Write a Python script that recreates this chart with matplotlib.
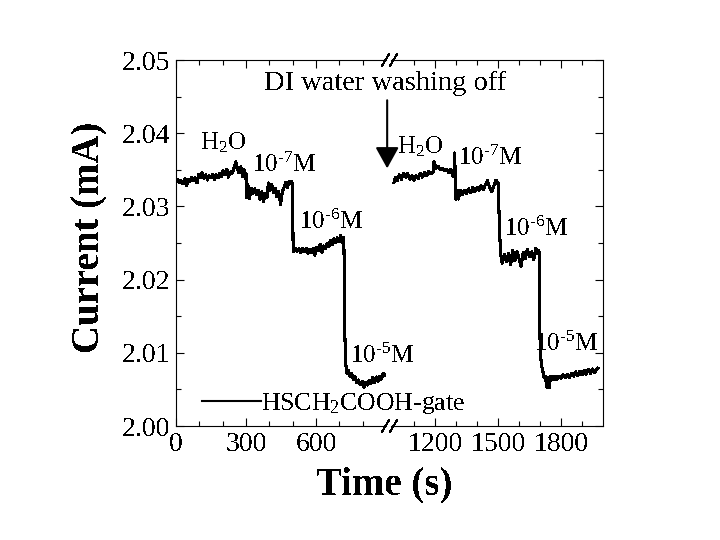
import matplotlib
matplotlib.use('Agg')
import matplotlib.pyplot as plt
from matplotlib.lines import Line2D

plt.rcParams['font.family'] = ['Liberation Serif', 'DejaVu Serif']
plt.rcParams['mathtext.fontset'] = 'custom'
plt.rcParams['mathtext.rm'] = 'Liberation Serif'
plt.rcParams['mathtext.default'] = 'rm'
plt.rcParams['text.antialiased'] = False

# first run, before the break
time_a = [0, 8, 15, 22, 30, 38, 45, 52, 60, 68, 75, 82, 90, 98, 105, 112, 120, 128, 135, 142,
          150, 158, 165, 172, 180, 188, 195, 202, 210, 218, 225, 232, 240, 248, 256, 263, 270,
          278, 285, 292, 298, 300, 303, 308, 315, 322, 330, 338, 345, 352, 360, 368, 375, 382,
          390, 396, 402, 410, 418, 425, 432, 440, 448, 455, 462, 470, 478, 484, 490, 496, 499,
          500, 501, 502, 504, 512, 520, 528, 535, 542, 550, 558, 565, 572, 580, 588, 595, 602,
          610, 618, 625, 632, 640, 648, 655, 662, 670, 678, 685, 692, 700, 706, 712, 716, 718,
          720, 722, 724, 726, 728, 730, 733, 738, 745, 752, 760, 768, 775, 782, 790, 798, 805,
          812, 820, 828, 835, 842, 850, 858, 865, 872, 880, 888, 895]
current_a = [2.0333, 2.0337, 2.0332, 2.0335, 2.0331, 2.0338, 2.0328, 2.0337, 2.0334, 2.0340,
             2.0335, 2.0339, 2.0332, 2.0344, 2.0340, 2.0346, 2.0338, 2.0343, 2.0336, 2.0342,
             2.0339, 2.0344, 2.0337, 2.0343, 2.0339, 2.0345, 2.0341, 2.0349, 2.0343, 2.0351,
             2.0340, 2.0347, 2.0345, 2.0352, 2.0361, 2.0352, 2.0346, 2.0354, 2.0341, 2.0350,
             2.0338, 2.0345, 2.0312, 2.0330, 2.0311, 2.0325, 2.0318, 2.0324, 2.0316, 2.0322,
             2.0310, 2.0320, 2.0307, 2.0318, 2.0312, 2.0332, 2.0322, 2.0330, 2.0319, 2.0325,
             2.0313, 2.0321, 2.0303, 2.0319, 2.0325, 2.0333, 2.0326, 2.0334, 2.0332, 2.0334,
             2.0331, 2.0300, 2.0260, 2.0242, 2.0238, 2.0243, 2.0239, 2.0242, 2.0237, 2.0243,
             2.0238, 2.0243, 2.0236, 2.0241, 2.0237, 2.0243, 2.0233, 2.0244, 2.0240, 2.0248,
             2.0237, 2.0246, 2.0242, 2.0250, 2.0245, 2.0254, 2.0248, 2.0256, 2.0250, 2.0257,
             2.0252, 2.0261, 2.0251, 2.0258, 2.0255, 2.0240, 2.0180, 2.0120, 2.0100, 2.0085,
             2.0075, 2.0072, 2.0076, 2.0068, 2.0072, 2.0064, 2.0067, 2.0059, 2.0063, 2.0056,
             2.0061, 2.0053, 2.0059, 2.0056, 2.0062, 2.0058, 2.0066, 2.0059, 2.0067, 2.0061,
             2.0068, 2.0064, 2.0072, 2.0070]

# second run, after the break
time_b = [1005, 1012, 1020, 1030, 1040, 1050, 1060, 1070, 1080, 1090, 1100, 1110, 1120, 1130,
          1140, 1150, 1160, 1170, 1180, 1190, 1195, 1205, 1215, 1225, 1235, 1245, 1255, 1265,
          1275, 1285, 1292, 1294, 1296, 1298, 1300, 1302, 1306, 1312, 1320, 1330, 1340, 1350,
          1360, 1370, 1380, 1390, 1400, 1410, 1420, 1430, 1440, 1450, 1460, 1470, 1480, 1490,
          1495, 1500, 1503, 1506, 1510, 1514, 1520, 1530, 1540, 1550, 1560, 1570, 1580, 1590,
          1600, 1610, 1620, 1630, 1640, 1650, 1660, 1670, 1680, 1688, 1692, 1696, 1698, 1700,
          1703, 1708, 1714, 1720, 1726, 1732, 1738, 1744, 1750, 1756, 1762, 1768, 1774, 1780,
          1790, 1800, 1810, 1820, 1830, 1840, 1850, 1860, 1870, 1880, 1890, 1900, 1910, 1920,
          1930, 1940, 1950, 1960, 1975]
current_b = [2.0333, 2.0340, 2.0335, 2.0343, 2.0337, 2.0345, 2.0340, 2.0345, 2.0337, 2.0342,
             2.0336, 2.0342, 2.0338, 2.0345, 2.0340, 2.0346, 2.0342, 2.0348, 2.0345, 2.0346,
             2.0361, 2.0352, 2.0355, 2.0350, 2.0352, 2.0349, 2.0351, 2.0346, 2.0351, 2.0341,
             2.0352, 2.0373, 2.0340, 2.0320, 2.0310, 2.0316, 2.0322, 2.0310, 2.0322, 2.0316,
             2.0322, 2.0318, 2.0324, 2.0319, 2.0326, 2.0320, 2.0326, 2.0322, 2.0328, 2.0323,
             2.0330, 2.0335, 2.0326, 2.0320, 2.0328, 2.0336, 2.0334, 2.0332, 2.0310, 2.0280,
             2.0250, 2.0232, 2.0222, 2.0235, 2.0224, 2.0236, 2.0220, 2.0240, 2.0226, 2.0238,
             2.0229, 2.0218, 2.0237, 2.0229, 2.0241, 2.0232, 2.0238, 2.0227, 2.0243, 2.0236,
             2.0240, 2.0238, 2.0180, 2.0120, 2.0095, 2.0082, 2.0074, 2.0066, 2.0068, 2.0053,
             2.0066, 2.0052, 2.0068, 2.0063, 2.0067, 2.0063, 2.0068, 2.0064, 2.0068, 2.0065,
             2.0070, 2.0066, 2.0071, 2.0066, 2.0072, 2.0068, 2.0074, 2.0069, 2.0075, 2.0070,
             2.0076, 2.0071, 2.0077, 2.0072, 2.0078, 2.0073, 2.0079]

y_ticks = [2.00, 2.01, 2.02, 2.03, 2.04, 2.05]
y_minor = [2.005, 2.015, 2.025, 2.035, 2.045]
x_ticks_a = [0, 300, 600]
x_minor_a = [100, 200, 400, 500, 700, 800]
x_ticks_b = [1200, 1500, 1800]
x_minor_b = [1100, 1300, 1400, 1600, 1700, 1900]

fig = plt.figure(figsize=(7.2, 5.4), dpi=100)
W, H = 720.0, 540.0
ax1 = fig.add_axes([176 / W, 1 - 426 / H, 210 / W, 366 / H])
ax2 = fig.add_axes([391 / W, 1 - 426 / H, 212 / W, 366 / H])
ax2.patch.set_visible(False)
ax1.set_zorder(3)
ax1.patch.set_visible(False)

ln, = ax1.plot(time_a, current_a, color='black', lw=1.5, antialiased=False, label='HSCH$_2$COOH-gate')
ax2.plot(time_b, current_b, color='black', lw=1.5, antialiased=False)

ax1.set_xlim(0, 900)
ax2.set_xlim(990.5, 2000)
for ax in (ax1, ax2):
    ax.set_ylim(2.00, 2.05)
    ax.tick_params(which='major', direction='in', length=6, width=0.8, top=True, labelsize=20, pad=4)
    ax.tick_params(which='minor', direction='in', length=3.5, width=0.8, top=True)

ax1.set_xticks(x_ticks_a)
ax1.set_xticks(x_minor_a, minor=True)
ax1.set_yticks(y_ticks)
ax1.set_yticks(y_minor, minor=True)
ax1.set_yticklabels(['%.2f' % v for v in y_ticks])
ax1.spines['right'].set_visible(False)

ax2.set_xticks(x_ticks_b)
ax2.set_xticks(x_minor_b, minor=True)
ax2.set_yticks(y_ticks)
ax2.set_yticks(y_minor, minor=True)
ax2.tick_params(which='both', left=False, right=True, labelleft=False)
ax2.spines['left'].set_visible(False)

fig.text(90 / W, 1 - 237 / H, 'Current (mA)', rotation=90, fontsize=28, fontweight='bold', ha='center', va='center')
fig.text(384 / W, 1 - 485 / H, 'Time (s)', fontsize=28, fontweight='bold', ha='center', va='center')

# labels in both panels
minus7 = '10$^{\\text{-}7}$M'
minus6 = '10$^{\\text{-}6}$M'
minus5 = '10$^{\\text{-}5}$M'
water = 'H$_2$O'
ax1.text(896, 2.0468, 'DI water washing off', fontsize=20.5, ha='center', va='center', clip_on=False)
ax1.text(201, 2.0387, water, fontsize=18, ha='center', va='center', clip_on=False)
ax1.text(463, 2.0357, minus7, fontsize=18, ha='center', va='center', clip_on=False)
ax1.text(664, 2.0279, minus6, fontsize=18, ha='center', va='center', clip_on=False)
ax1.text(883, 2.0096, minus5, fontsize=18, ha='center', va='center', clip_on=False)
ax2.text(1129, 2.0381, water, fontsize=18, ha='center', va='center', clip_on=False)
ax2.text(1462, 2.0366, minus7, fontsize=18, ha='center', va='center', clip_on=False)
ax2.text(1681, 2.0269, minus6, fontsize=18, ha='center', va='center', clip_on=False)
ax2.text(1824, 2.0112, minus5, fontsize=18, ha='center', va='center', clip_on=False)

ax1.annotate('', xy=(905, 2.0352), xytext=(905, 2.0445), annotation_clip=False,
             arrowprops=dict(arrowstyle='-|>,head_length=1.3,head_width=0.72', mutation_scale=10,
                             color='black', lw=1.5, shrinkA=0, shrinkB=0))

ax1.legend(handles=[ln], loc='lower left', bbox_to_anchor=(26 / 210, 9 / 366), frameon=False,
           fontsize=18.5, handlelength=2.3, handletextpad=0.0, borderpad=0, borderaxespad=0)

# axis break marks
for y0 in (426, 60):
    for x0 in (382, 390):
        fig.add_artist(Line2D([x0 / W, (x0 + 7) / W], [1 - (y0 + 6) / H, 1 - (y0 - 6) / H],
                              color='black', lw=0.8, antialiased=False))

plt.savefig('out.png', dpi=100)
plt.close()
